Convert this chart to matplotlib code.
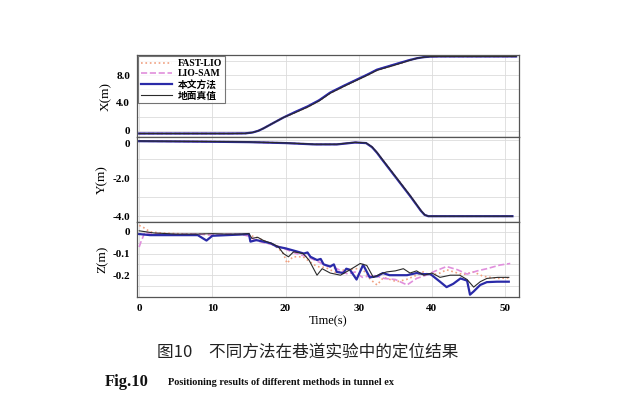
import numpy as np
import matplotlib
matplotlib.use('Agg')
import matplotlib.pyplot as plt

plt.rcParams['font.family'] = ['Liberation Serif', 'Noto Sans CJK SC']
plt.rcParams['font.weight'] = 'bold'

# X(m) trajectory
t_x = [0, 5, 10, 12.4, 14.5, 15.5, 16.3, 17.0, 18.3, 19.7, 21.3, 23.0, 24.6, 26.1, 28.0, 29.8, 31.2, 32.5, 34.1, 35.7, 37.0, 38.0, 38.9, 39.8, 41.1, 45, 51.5]
x_gt = [-0.4, -0.4, -0.4, -0.4, -0.38, -0.25, 0.0, 0.35, 1.1, 1.9, 2.6, 3.4, 4.3, 5.4, 6.4, 7.3, 8.0, 8.7, 9.2, 9.7, 10.15, 10.45, 10.6, 10.68, 10.7, 10.7, 10.7]
x_ours = [-0.4, -0.4, -0.4, -0.4, -0.38, -0.25, 0.0, 0.35, 1.1, 1.9, 2.7, 3.5, 4.4, 5.5, 6.5, 7.4, 8.1, 8.8, 9.3, 9.8, 10.2, 10.45, 10.6, 10.68, 10.7, 10.7, 10.7]

# Y(m) trajectory
t_y = [0, 10, 15, 20, 24, 27, 29.5, 31, 31.8, 32.5, 33, 35, 37, 38.5, 39.0, 39.5, 45, 51]
y_gt = [-0.05, -0.08, -0.1, -0.15, -0.22, -0.22, -0.12, -0.15, -0.35, -0.65, -0.9, -1.9, -2.9, -3.7, -3.92, -4.0, -4.0, -4.0]
y_ours = [-0.06, -0.09, -0.11, -0.16, -0.23, -0.23, -0.13, -0.16, -0.37, -0.67, -0.93, -1.93, -2.93, -3.72, -3.93, -4.0, -4.0, -4.0]

# Z(m) per method
t_z_ours = [0, 1.5, 3, 5, 8, 9.2, 10, 12, 14, 15, 15.2, 16, 17, 18, 18.8, 20, 21.5, 22.5, 23.0, 23.4, 24.3, 24.8, 25.2, 26.1, 26.6, 27, 27.9, 28.3, 28.8, 29.7, 30.6, 31.5, 32.5, 33.3, 34.2, 35.2, 36.6, 37.9, 38.8, 39.8, 41.1, 42, 42.9, 43.9, 44.8, 45.2, 45.7, 46.6, 47.5, 48.9, 50.5]
z_ours = [-0.01, -0.015, -0.015, -0.015, -0.015, -0.04, -0.018, -0.015, -0.012, -0.01, -0.045, -0.038, -0.045, -0.053, -0.068, -0.076, -0.09, -0.1, -0.095, -0.115, -0.13, -0.125, -0.15, -0.16, -0.15, -0.185, -0.19, -0.17, -0.175, -0.22, -0.152, -0.21, -0.205, -0.19, -0.2, -0.2, -0.2, -0.19, -0.195, -0.195, -0.23, -0.255, -0.24, -0.215, -0.225, -0.29, -0.275, -0.245, -0.232, -0.23, -0.23]

t_z_gt = [0, 2, 5, 8, 10, 12, 14, 15, 15.4, 16.2, 17, 18.1, 19, 19.7, 20.4, 21.1, 22.4, 23.2, 24.3, 25, 26.1, 27.5, 28.8, 30.2, 31.1, 32, 32.9, 33.8, 35, 36.1, 37, 37.9, 38.9, 40, 41.1, 42.5, 43.8, 44.8, 45.7, 46.6, 47.5, 49, 50.5]
z_gt = [0.005, -0.005, -0.01, -0.01, -0.008, -0.01, -0.01, -0.008, -0.03, -0.025, -0.04, -0.053, -0.068, -0.1, -0.115, -0.092, -0.1, -0.13, -0.2, -0.17, -0.19, -0.2, -0.175, -0.146, -0.155, -0.21, -0.195, -0.185, -0.18, -0.17, -0.19, -0.18, -0.2, -0.19, -0.21, -0.2, -0.2, -0.22, -0.255, -0.23, -0.215, -0.21, -0.21]

t_z_fast = [0, 0.6, 1.5, 3, 5, 7, 9, 10, 12, 14, 15, 16, 17, 18, 19, 19.7, 20.2, 21, 22.4, 23.4, 24.3, 25.5, 27, 28, 29.7, 30.6, 31.6, 32.5, 33.4, 35.2, 36.5, 37.9, 38.8, 39.8, 41.1, 42, 43.5, 44.3, 45.7, 47, 48.9, 50.7]
z_fast = [0.03, 0.02, 0.0, -0.005, -0.008, -0.01, -0.01, -0.015, -0.012, -0.01, -0.015, -0.025, -0.04, -0.055, -0.075, -0.1, -0.145, -0.115, -0.115, -0.14, -0.16, -0.165, -0.19, -0.175, -0.17, -0.175, -0.22, -0.245, -0.21, -0.23, -0.22, -0.2, -0.185, -0.2, -0.19, -0.175, -0.19, -0.197, -0.185, -0.205, -0.215, -0.212]

t_z_sam = [0, 0.2, 0.8, 1.5, 3, 5, 8, 10, 12, 14, 15, 16, 17, 18.5, 20, 21.5, 23, 24.3, 25.5, 27, 28.5, 29.5, 30.5, 32, 33.5, 35, 36.6, 37.9, 39.2, 40.5, 42, 43.5, 44.8, 46.2, 47.5, 49.3, 50.7]
z_sam = [-0.07, -0.05, 0.0, -0.01, -0.008, -0.012, -0.01, -0.015, -0.01, -0.012, -0.02, -0.04, -0.05, -0.06, -0.08, -0.1, -0.115, -0.135, -0.155, -0.17, -0.195, -0.185, -0.21, -0.2, -0.215, -0.22, -0.245, -0.215, -0.2, -0.18, -0.16, -0.175, -0.195, -0.18, -0.17, -0.153, -0.146]

labels = ['FAST-LIO', 'LIO-SAM', '本文方法', '地面真值']
c_fast = '#f0a080'
c_sam = '#e08fdc'
c_ours = '#2a2aa8'
c_gt = '#2b2b2b'

fig = plt.figure(figsize=(6.4, 3.99), dpi=100)
gs = fig.add_gridspec(3, 1, height_ratios=[82, 85, 75], hspace=0,
                      left=0.214, right=0.811, top=0.862, bottom=0.256)
ax1 = fig.add_subplot(gs[0])
ax2 = fig.add_subplot(gs[1], sharex=ax1)
ax3 = fig.add_subplot(gs[2], sharex=ax1)

def draw(ax, tf, vf, ts, vs, to, vo, tg, vg):
    ax.plot(tf, vf, ls=':', color=c_fast, lw=1.2, label=labels[0])
    ax.plot(ts, vs, ls='--', color=c_sam, lw=1.2, label=labels[1])
    ax.plot(to, vo, '-', color=c_ours, lw=1.6, label=labels[2])
    ax.plot(tg, vg, '-', color=c_gt, lw=0.8, label=labels[3])

draw(ax1, t_x, x_gt, t_x, x_ours, t_x, x_ours, t_x, x_gt)
draw(ax2, t_y, y_gt, t_y, y_ours, t_y, y_ours, t_y, y_gt)
draw(ax3, t_z_fast, z_fast, t_z_sam, z_sam, t_z_ours, z_ours, t_z_gt, z_gt)

ax1.set_ylim(-0.9, 10.9)
ax1.set_yticks([0, 4, 8])
ax1.set_yticklabels(['0', '4.0', '8.0'])
ax1.set_yticks([2, 6, 10], minor=True)

ax2.set_ylim(-4.3, 0.16)
ax2.set_yticks([0, -2, -4])
ax2.set_yticklabels(['0', '-2.0', '-4.0'])
ax2.set_yticks([-1, -3], minor=True)

ax3.set_ylim(-0.30, 0.046)
ax3.set_yticks([0, -0.1, -0.2])
ax3.set_yticklabels(['0', '-0.1', '-0.2'])
ax3.set_yticks([-0.05, -0.15, -0.25], minor=True)

ax1.set_xlim(-0.3, 51.9)
ax3.set_xticks([0, 10, 20, 30, 40, 50])
ax3.set_xlabel('Time(s)', fontsize=9, labelpad=2)

for ax, name in zip([ax1, ax2, ax3], ['X(m)', 'Y(m)', 'Z(m)']):
    ax.set_ylabel(name, fontsize=9.5, labelpad=3)
    ax.grid(True, which='both', color='#dcdcdc', lw=0.6)
    ax.set_axisbelow(True)
    ax.tick_params(which='both', length=0, labelsize=8, pad=5)
    for s in ax.spines.values():
        s.set_color('#555555')
        s.set_linewidth(0.9)
for ax in [ax1, ax2]:
    ax.tick_params(labelbottom=False)
# the two stacked zero labels at the panel seam
ax2.get_yticklabels()[0].set_va('top')

leg = ax1.legend(loc='upper left', fontsize=7, frameon=True, fancybox=False,
                 handlelength=3.2, borderpad=0.3, labelspacing=0.15,
                 borderaxespad=0.1, handletextpad=0.6)
leg.get_frame().set_edgecolor('#555555')
leg.get_frame().set_linewidth(0.8)

fig.text(0.245, 0.117, '图10\u3000不同方法在巷道实验中的定位结果', fontsize=12,
         family=['Noto Sans CJK SC', 'DejaVu Sans'], weight='normal',
         color='#222222', va='center')
fig.text(0.164, 0.042, 'Fig.10', fontsize=12, weight='bold', va='center', color='#111111')
fig.text(0.262, 0.042, 'Positioning results of different methods in tunnel ex',
         fontsize=7.4, weight='bold', va='center', color='#111111')

fig.savefig('out.png', dpi=100, facecolor='white')
